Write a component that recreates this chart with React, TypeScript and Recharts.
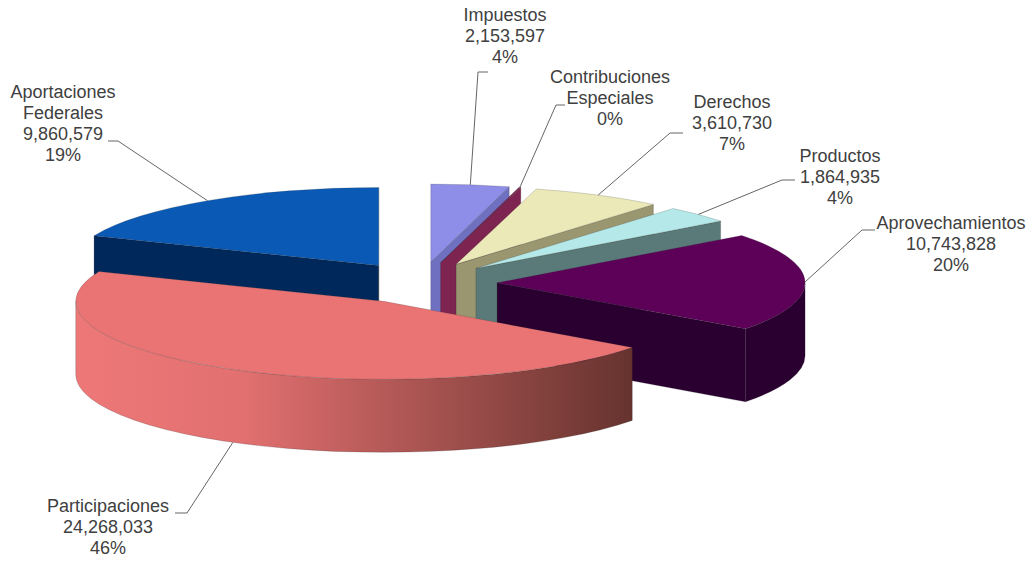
import { Pie, PieChart } from 'recharts';

// drawing order is back to front, so the list starts at Aportaciones and ends at Participaciones
const categories = ['Aportaciones Federales', 'Impuestos', 'Contribuciones Especiales', 'Derechos', 'Productos', 'Aprovechamientos', 'Participaciones'];
const values = [9860579, 2153597, 50000, 3610730, 1864935, 10743828, 24268033];
const labelNames = [['Aportaciones', 'Federales'], ['Impuestos'], ['Contribuciones', 'Especiales'], ['Derechos'], ['Productos'], ['Aprovechamientos'], ['Participaciones']];
const showValue = [true, true, false, true, true, true, true];

const topColors = ['#0a5ab5', '#8e8ee8', '#7d2550', '#ece9b8', '#b5e9e9', '#5c0058', '#ea7474'];
const wallColors = ['#00285a', '#7070c0', '#7d2550', '#9a9670', '#5a7a7a', '#2a0030', 'url(#participacionesWall)'];

// label text centre, first line y, and the elbow + end of the leader
const labelCentres = [[63, 92], [505, 15], [610, 77], [732, 102], [840, 156], [951, 223], [108, 506]];
const leaderElbows = [[[118, 141], [108, 141]], [[478, 72], [488, 72]], [[556, 105], [565, 105]], [[670, 133], [683, 133]], [[782, 180], [795, 180]], [[862, 230], [875, 230]], [[187, 513], [175, 513]]];

const CX = 421;
const CY = 283;
const RADIUS = 308;
const SQUASH = 78 / 308;
const DEPTH = 73;
const EXPLODE_X = 0.247;
const EXPLODE_Y = 0.27;

const total = values.reduce((sum, v) => sum + v, 0);
const startAngle = 90 + (values[0] / total) * 360;
const data = categories.map((name, i) => ({ name, value: values[i], fill: topColors[i] }));

const rad = (deg: number) => (deg * Math.PI) / 180;

function project(x: number, y: number, r: number, deg: number) {
  return [x + r * Math.cos(rad(deg)), y - r * SQUASH * Math.sin(rad(deg))];
}

function apexOf(cx: number, cy: number, r: number, mid: number) {
  return [cx + r * EXPLODE_X * Math.cos(rad(mid)), cy - r * SQUASH * EXPLODE_Y * Math.sin(rad(mid))];
}

function arcPath(x: number, y: number, r: number, from: number, to: number) {
  const end = project(x, y, r, to);
  const large = Math.abs(from - to) > 180 ? 1 : 0;
  return `A ${r} ${r * SQUASH} 0 ${large} 1 ${end[0]} ${end[1]}`;
}

function SliceShape(props: any) {
  const { cx, cy, outerRadius: r, startAngle: a, endAngle: b, index } = props;
  const [x, y] = apexOf(cx, cy, r, (a + b) / 2);
  const wall = wallColors[index];
  const walls = [];

  // cut faces that look towards the viewer
  [a, b].forEach((angle, i) => {
    const clock = Math.sin(rad(90 - angle));
    const facesFront = i === 0 ? clock < 0 : clock > 0;
    if (!facesFront) return;
    const rim = project(x, y, r, angle);
    walls.push(
      <path key={`cut${i}`} fill={wall} stroke="#222" strokeWidth={0.2}
        d={`M ${x} ${y} L ${rim[0]} ${rim[1]} L ${rim[0]} ${rim[1] + DEPTH} L ${x} ${y + DEPTH} Z`} />
    );
  });

  // outer wall, only the part on the near side of the ellipse
  [-1, 0, 1].forEach((k) => {
    const hi = 360 * k;
    const lo = hi - 180;
    const from = Math.min(a, hi);
    const to = Math.max(b, lo);
    if (from <= to) return;
    const p0 = project(x, y, r, from);
    const p1 = project(x, y, r, to);
    walls.push(
      <path key={`arc${k}`} fill={wall} stroke="#222" strokeWidth={0.2}
        d={`M ${p0[0]} ${p0[1]} ${arcPath(x, y, r, from, to)} L ${p1[0]} ${p1[1] + DEPTH} A ${r} ${r * SQUASH} 0 0 0 ${p0[0]} ${p0[1] + DEPTH} Z`} />
    );
  });

  const first = project(x, y, r, a);
  return (
    <g>
      {walls}
      <path fill={topColors[index]} stroke="#333" strokeWidth={0.2}
        d={`M ${x} ${y} L ${first[0]} ${first[1]} ${arcPath(x, y, r, a, b)} Z`} />
    </g>
  );
}

function SliceLabel(props: any) {
  const { cx, cy, outerRadius: r, midAngle, index, percent } = props;
  const [x, y] = apexOf(cx, cy, r, midAngle);
  const rim = project(x, y, r, midAngle);
  // leaders of slices on the near side start at the bottom of the wall
  const startY = Math.sin(rad(midAngle)) < -0.1 ? rim[1] + DEPTH : rim[1];
  const [elbow, end] = leaderElbows[index];
  const [tx, ty] = labelCentres[index];
  const lines = [...labelNames[index]];
  if (showValue[index]) lines.push(values[index].toLocaleString('en-US'));
  lines.push(`${Math.round(percent * 100)}%`);
  return (
    <g>
      <polyline fill="none" stroke="#666" strokeWidth={1}
        points={`${rim[0]},${startY} ${elbow[0]},${elbow[1]} ${end[0]},${end[1]}`} />
      <text textAnchor="middle" fontFamily="Liberation Sans" fontSize={18} fill="#404040">
        {lines.map((line, i) => (
          <tspan key={line} x={tx} y={ty + 6 + i * 21}>{line}</tspan>
        ))}
      </text>
    </g>
  );
}

export default function App() {
  return (
    <div style={{ position: 'absolute', left: 0, top: 0, width: 1032, height: 561, background: '#fff' }}>
      <PieChart width={1032} height={561} margin={{ top: 0, right: 0, bottom: 0, left: 0 }}>
        <defs>
          <linearGradient id="participacionesWall" x1="0" y1="0" x2="1" y2="0">
            <stop offset="0" stopColor="#ee7878" />
            <stop offset="0.3" stopColor="#e27070" />
            <stop offset="1" stopColor="#66332e" />
          </linearGradient>
        </defs>
        <Pie
          data={data}
          dataKey="value"
          nameKey="name"
          cx={CX}
          cy={CY}
          outerRadius={RADIUS}
          startAngle={startAngle}
          endAngle={startAngle - 360}
          shape={SliceShape}
          inactiveShape={SliceShape}
          activeShape={SliceShape}
          label={SliceLabel}
          labelLine={false}
          isAnimationActive={false}
        />
      </PieChart>
    </div>
  );
}
